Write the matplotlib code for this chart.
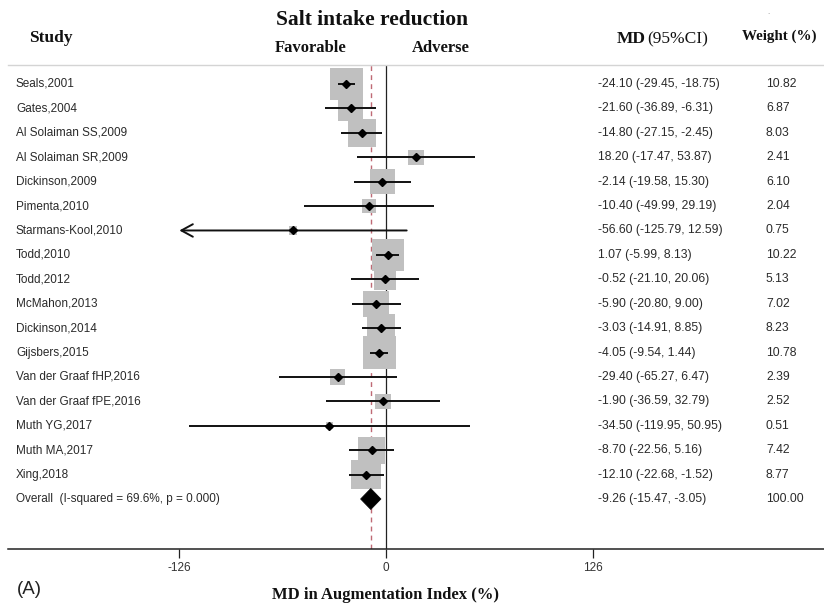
import matplotlib
matplotlib.use("Agg")
import matplotlib.pyplot as plt
import matplotlib.transforms as mtransforms
from matplotlib.patches import Polygon
import numpy as np

studies = ["Seals,2001", "Gates,2004", "Al Solaiman SS,2009", "Al Solaiman SR,2009",
           "Dickinson,2009", "Pimenta,2010", "Starmans-Kool,2010", "Todd,2010",
           "Todd,2012", "McMahon,2013", "Dickinson,2014", "Gijsbers,2015",
           "Van der Graaf fHP,2016", "Van der Graaf fPE,2016", "Muth YG,2017",
           "Muth MA,2017", "Xing,2018"]
md = [-24.10, -21.60, -14.80, 18.20, -2.14, -10.40, -56.60, 1.07, -0.52, -5.90,
      -3.03, -4.05, -29.40, -1.90, -34.50, -8.70, -12.10]
ci_low = [-29.45, -36.89, -27.15, -17.47, -19.58, -49.99, -125.79, -5.99, -21.10,
          -20.80, -14.91, -9.54, -65.27, -36.59, -119.95, -22.56, -22.68]
ci_high = [-18.75, -6.31, -2.45, 53.87, 15.30, 29.19, 12.59, 8.13, 20.06, 9.00,
           8.85, 1.44, 6.47, 32.79, 50.95, 5.16, -1.52]
weights = [10.82, 6.87, 8.03, 2.41, 6.10, 2.04, 0.75, 10.22, 5.13, 7.02, 8.23,
           10.78, 2.39, 2.52, 0.51, 7.42, 8.77]
overall_label = "Overall  (I-squared = 69.6%, p = 0.000)"
overall_md = -9.26
overall_low = -15.47
overall_high = -3.05
overall_weight = 100.00
arrow_studies = ["Starmans-Kool,2010"]
xticks = [-126, 0, 126]

W, H = 824, 610
fig = plt.figure(figsize=(W / 100, H / 100), dpi=100)
fig.patch.set_facecolor("white")

# layout (pixels)
ax_left_px, ax_right_px = 8, 824
ax_top_px, ax_bot_px = 65, 549
zero_px = 386
px_per_unit = (593 - 179) / 252.0
row0_px, row_step = 84, (499 - 84) / 17.0

ax = fig.add_axes([ax_left_px / W, (H - ax_bot_px) / H,
                   (ax_right_px - ax_left_px) / W, (ax_bot_px - ax_top_px) / H])
ax.set_xlim(-(zero_px - ax_left_px) / px_per_unit, (ax_right_px - zero_px) / px_per_unit)
ax.set_ylim((ax_bot_px - row0_px) / row_step, (ax_top_px - row0_px) / row_step)

for s in ["left", "right"]:
    ax.spines[s].set_visible(False)
ax.spines["top"].set_color("#d4d4d4")
ax.spines["top"].set_linewidth(1.0)
ax.spines["bottom"].set_color("#222222")
ax.spines["bottom"].set_linewidth(1.1)
ax.set_yticks([])
ax.set_xticks(xticks)
ax.set_xticklabels([str(t) for t in xticks], fontsize=8.5, color="#333333",
                   family="Liberation Sans")
ax.tick_params(axis="x", direction="out", length=6.5, width=0.9, color="#222222", pad=3)

rows = np.arange(len(studies))
overall_row = len(studies)

# reference lines
ax.axvline(0, color="#222222", lw=0.9, zorder=1)
ax.axvline(overall_md, color="#bf6a75", lw=1.0, ls=(0, (3.5, 3.0)), zorder=1)

# boxes sized by weight
max_w = max(weights)
side_px = 32.5 * np.sqrt(np.array(weights) / max_w)
side_pt = side_px * 72 / 100
ax.scatter(md, rows, marker="s", s=side_pt ** 2, color="#c0c0c0", edgecolors="none",
           zorder=2)

# CI lines
for i, name in enumerate(studies):
    if name in arrow_studies:
        ax.annotate("", xy=(ci_low[i], rows[i]), xytext=(ci_high[i], rows[i]),
                    arrowprops=dict(arrowstyle="->,head_length=0.55,head_width=0.3",
                                    lw=1.4, color="#111111", shrinkA=0, shrinkB=0,
                                    mutation_scale=15),
                    zorder=3)
    else:
        ax.plot([ci_low[i], ci_high[i]], [rows[i], rows[i]], color="#111111",
                lw=1.4, solid_capstyle="butt", zorder=3)
ax.plot(md, rows, ls="none", marker="D", ms=4.3, color="#000000", zorder=4)

# overall diamond
h = 0.43
diamond = Polygon([[overall_low, overall_row], [overall_md, overall_row - h],
                   [overall_high, overall_row], [overall_md, overall_row + h]],
                  closed=True, facecolor="black", edgecolor="black", lw=0.5, zorder=4)
ax.add_patch(diamond)

# text columns
trans = mtransforms.blended_transform_factory(fig.transFigure, ax.transData)
sans = "Liberation Sans"
serif = "Liberation Serif"
tcol = "#2a2a2a"
all_labels = studies + [overall_label]
all_md = md + [overall_md]
all_lo = ci_low + [overall_low]
all_hi = ci_high + [overall_high]
all_w = weights + [overall_weight]
for i in range(len(all_labels)):
    ax.text(16 / W, i, all_labels[i], transform=trans, ha="left", va="center",
            fontsize=8.5, family=sans, color=tcol)
    ax.text(598 / W, i, f"{all_md[i]:.2f} ({all_lo[i]:.2f}, {all_hi[i]:.2f})",
            transform=trans, ha="left", va="center", fontsize=8.7, family=sans, color=tcol)
    ax.text(766 / W, i, f"{all_w[i]:.2f}", transform=trans, ha="left", va="center",
            fontsize=8.7, family=sans, color=tcol)

def ftext(xp, yp, s, **kw):
    fig.text(xp / W, 1 - yp / H, s, **kw)

ftext(51, 38, "Study", ha="center", va="center", fontsize=12.5, family=serif,
      fontweight="bold", color="#111111")
ftext(372, 20, "Salt intake reduction", ha="center", va="center", fontsize=15.5,
      family=serif, fontweight="bold", color="#111111")
ftext(311, 48, "Favorable", ha="center", va="center", fontsize=12, family=serif,
      fontweight="bold", color="#111111")
ftext(441, 48, "Adverse", ha="center", va="center", fontsize=12, family=serif,
      fontweight="bold", color="#111111")
ftext(617, 39, "MD", ha="left", va="center", fontsize=12.5, family=serif,
      fontweight="bold", color="#111111")
ftext(647, 39, "(95%CI)", ha="left", va="center", fontsize=12.5, family=serif,
      color="#111111")
ftext(742, 36, "Weight (%)", ha="left", va="center", fontsize=10.8, family=serif,
      fontweight="bold", color="#111111")
ftext(768, 12, ".", ha="center", va="center", fontsize=5, color="#888888")
ftext(17, 590, "(A)", ha="left", va="center", fontsize=13.5, family=sans, color="#222222")
ftext(386, 595, "MD in Augmentation Index (%)", ha="center", va="center", fontsize=12,
      family=serif, fontweight="bold", color="#111111")

fig.savefig("out.png", dpi=100, facecolor="white")
